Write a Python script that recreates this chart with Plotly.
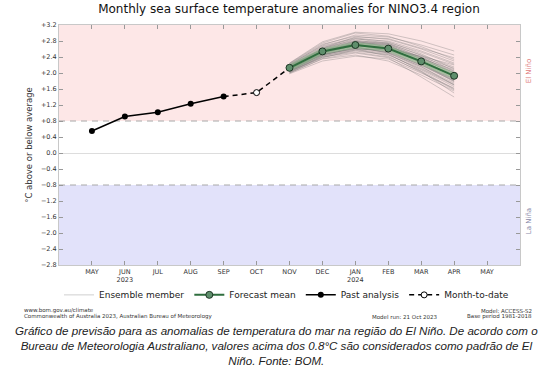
import plotly.graph_objects as go

# ---------------- data ----------------
month_labels = ["MAY", "JUN<br>2023", "JUL", "AUG", "SEP", "OCT", "NOV", "DEC",
                "JAN<br>2024", "FEB", "MAR", "APR", "MAY"]
month_idx = list(range(len(month_labels)))

past_months = [0, 1, 2, 3, 4]          # MAY..SEP 2023
past_values = [0.55, 0.91, 1.02, 1.23, 1.41]

mtd_month = [5]                        # OCT 2023
mtd_value = [1.51]

fc_months = [6, 7, 8, 9, 10, 11]       # NOV 2023 .. APR 2024
fc_mean = [2.13, 2.54, 2.70, 2.61, 2.29, 1.93]

ensemble = [
    [2.10, 2.50, 2.70, 2.62, 2.30, 1.95],
    [2.15, 2.60, 2.85, 2.80, 2.55, 2.25],
    [2.05, 2.40, 2.55, 2.45, 2.10, 1.70],
    [2.20, 2.70, 2.95, 2.90, 2.70, 2.45],
    [2.00, 2.35, 2.45, 2.30, 1.95, 1.55],
    [2.12, 2.55, 2.75, 2.70, 2.35, 2.00],
    [2.18, 2.62, 2.80, 2.65, 2.25, 1.80],
    [2.08, 2.45, 2.62, 2.55, 2.20, 1.85],
    [2.25, 2.78, 3.02, 2.98, 2.80, 2.55],
    [2.02, 2.42, 2.60, 2.48, 2.05, 1.60],
    [2.14, 2.52, 2.68, 2.58, 2.28, 1.98],
    [2.16, 2.58, 2.76, 2.66, 2.40, 2.12],
    [2.06, 2.46, 2.66, 2.52, 2.15, 1.75],
    [2.22, 2.68, 2.88, 2.78, 2.48, 2.10],
    [1.98, 2.30, 2.42, 2.35, 2.00, 1.62],
    [2.10, 2.56, 2.78, 2.74, 2.45, 2.15],
    [2.13, 2.48, 2.64, 2.50, 2.12, 1.72],
    [2.19, 2.64, 2.82, 2.72, 2.38, 1.96],
    [2.04, 2.38, 2.58, 2.60, 2.42, 2.20],
    [2.11, 2.53, 2.72, 2.60, 2.26, 1.88],
    [2.17, 2.57, 2.70, 2.55, 2.18, 1.80],
    [2.09, 2.50, 2.74, 2.68, 2.34, 1.92],
    [2.23, 2.72, 2.92, 2.84, 2.60, 2.30],
    [2.03, 2.44, 2.64, 2.57, 2.22, 1.78],
    [2.14, 2.58, 2.80, 2.76, 2.52, 2.22],
    [2.07, 2.47, 2.60, 2.42, 2.02, 1.58],
    [2.16, 2.54, 2.66, 2.50, 2.16, 1.70],
    [2.12, 2.52, 2.72, 2.66, 2.32, 2.02],
    [2.20, 2.66, 2.86, 2.74, 2.44, 2.05],
    [2.01, 2.40, 2.52, 2.40, 2.04, 1.50],
    [2.15, 2.62, 2.90, 2.86, 2.62, 2.38],
    [2.10, 2.49, 2.68, 2.64, 2.36, 2.08],
    [2.06, 2.43, 2.57, 2.46, 2.08, 1.66],
    [2.18, 2.60, 2.78, 2.70, 2.30, 1.90],
    [2.13, 2.55, 2.74, 2.62, 2.27, 1.86],
    [2.24, 2.75, 3.00, 2.92, 2.66, 2.34],
    [2.08, 2.52, 2.76, 2.72, 2.40, 2.00],
    [2.11, 2.46, 2.62, 2.52, 2.20, 1.82],
    [2.19, 2.59, 2.72, 2.58, 2.24, 1.84],
    [2.05, 2.48, 2.70, 2.64, 2.38, 2.04],
    [2.00, 2.36, 2.50, 2.38, 1.90, 1.40],
]

y_ticks = [3.2, 2.8, 2.4, 2.0, 1.6, 1.2, 0.8, 0.4, 0.0, -0.4, -0.8, -1.2, -1.6, -2.0, -2.4, -2.8]
y_ticktext = ["+3.2", "+2.8", "+2.4", "+2.0", "+1.6", "+1.2", "+0.8", "+0.4", "0.0",
              "\u22120.4", "\u22120.8", "\u22121.2", "\u22121.6", "\u22122.0", "\u22122.4", "\u22122.8"]

el_nino_threshold = 0.8
la_nina_threshold = -0.8
y_min, y_max = -2.8, 3.2

FONT = "DejaVu Sans"

fig = go.Figure()

# ensemble members
for i, member in enumerate(ensemble):
    fig.add_trace(go.Scatter(
        x=fc_months, y=member, mode="lines",
        line=dict(color="rgba(105,105,105,0.45)", width=0.7),
        name="Ensemble member", showlegend=(i == 0),
        legendrank=1, hoverinfo="skip"))

# halo around forecast mean
fig.add_trace(go.Scatter(
    x=fc_months, y=fc_mean, mode="lines",
    line=dict(color="rgba(140,200,140,0.45)", width=6),
    showlegend=False, hoverinfo="skip"))

# dashed connector SEP -> OCT -> NOV
fig.add_trace(go.Scatter(
    x=[past_months[-1]] + mtd_month + [fc_months[0]],
    y=[past_values[-1]] + mtd_value + [fc_mean[0]],
    mode="lines", line=dict(color="black", width=1.5, dash="5px,4px"),
    showlegend=False, hoverinfo="skip"))

# forecast mean
fig.add_trace(go.Scatter(
    x=fc_months, y=fc_mean, mode="lines+markers",
    line=dict(color="#2f6e3e", width=2),
    marker=dict(size=7, color="#5f8f6c", line=dict(color="#1d3524", width=1)),
    name="Forecast mean", legendrank=2))

# past analysis
fig.add_trace(go.Scatter(
    x=past_months, y=past_values, mode="lines+markers",
    line=dict(color="black", width=1.5),
    marker=dict(size=6, color="black"),
    name="Past analysis", legendrank=3))

# month-to-date
fig.add_trace(go.Scatter(
    x=mtd_month, y=mtd_value, mode="lines+markers",
    line=dict(color="black", width=1.5, dash="5px,4px"),
    marker=dict(size=6, color="white", line=dict(color="black", width=1)),
    name="Month-to-date", legendrank=4))

shapes = [
    dict(type="rect", xref="paper", yref="y", x0=0, x1=1, y0=el_nino_threshold, y1=y_max,
         fillcolor="#fde7e7", line=dict(width=0), layer="below"),
    dict(type="rect", xref="paper", yref="y", x0=0, x1=1, y0=y_min, y1=la_nina_threshold,
         fillcolor="#e2e2fa", line=dict(width=0), layer="below"),
    dict(type="line", xref="paper", yref="y", x0=0, x1=1, y0=el_nino_threshold, y1=el_nino_threshold,
         line=dict(color="#a8a8a8", width=1, dash="6px,5px"), layer="below"),
    dict(type="line", xref="paper", yref="y", x0=0, x1=1, y0=la_nina_threshold, y1=la_nina_threshold,
         line=dict(color="#a8a8a8", width=1, dash="6px,5px"), layer="below"),
]

annotations = [
    dict(text="El Niño", xref="paper", yref="y", x=1.02, y=2.05, textangle=-90,
         showarrow=False, font=dict(family=FONT, size=7, color="#e07a7a"),
         xanchor="center", yanchor="middle"),
    dict(text="La Niña", xref="paper", yref="y", x=1.02, y=-1.7, textangle=-90,
         showarrow=False, font=dict(family=FONT, size=7, color="#8888a8"),
         xanchor="center", yanchor="middle"),
    dict(text="www.bom.gov.au/climate", xref="paper", yref="paper", x=-0.08, y=-0.19,
         showarrow=False, xanchor="left", yanchor="middle",
         font=dict(family=FONT, size=5.5, color="#333")),
    dict(text="Commonwealth of Australia 2023, Australian Bureau of Meteorology", xref="paper", yref="paper",
         x=-0.08, y=-0.215, showarrow=False, xanchor="left", yanchor="middle",
         font=dict(family=FONT, size=5.5, color="#333")),
    dict(text="Model run: 21 Oct 2023", xref="paper", yref="paper", x=0.675, y=-0.215,
         showarrow=False, xanchor="left", yanchor="middle",
         font=dict(family=FONT, size=5.5, color="#333")),
    dict(text="Model: ACCESS-S2", xref="paper", yref="paper", x=1.03, y=-0.19,
         showarrow=False, xanchor="right", yanchor="middle",
         font=dict(family=FONT, size=5.5, color="#333")),
    dict(text="Base period 1981-2018", xref="paper", yref="paper", x=1.03, y=-0.215,
         showarrow=False, xanchor="right", yanchor="middle",
         font=dict(family=FONT, size=5.5, color="#333")),
    dict(text="Gráfico de previsão para as anomalias de temperatura do mar na região do El Niño. De acordo com o<br>"
              "Bureau de Meteorologia Australiano, valores acima dos 0.8°C são considerados como padrão de El<br>"
              "Niño. Fonte: BOM.",
         xref="paper", yref="paper", x=(276 - 59) / 461, y=-0.2375, showarrow=False,
         xanchor="center", yanchor="top", align="center",
         font=dict(family="Liberation Sans", size=11.6, color="#222", style="italic")),
]

fig.update_layout(
    width=554, height=378,
    margin=dict(l=59, r=34, t=25, b=113),
    paper_bgcolor="white", plot_bgcolor="white",
    title=dict(text="Monthly sea surface temperature anomalies for NINO3.4 region",
               x=289 / 554, xanchor="center", y=1 - 9 / 378, yanchor="middle",
               font=dict(family=FONT, size=12, color="#111")),
    font=dict(family=FONT, color="#333"),
    showlegend=True,
    legend=dict(orientation="h", x=0, xanchor="left", y=-0.064, yanchor="top",
                font=dict(family=FONT, size=9, color="#222"), bgcolor="rgba(0,0,0,0)",
                traceorder="normal"),
    shapes=shapes,
    annotations=annotations,
)

fig.update_xaxes(
    range=[-1, 13], tickmode="array", tickvals=month_idx, ticktext=month_labels,
    ticks="inside", ticklen=4, tickcolor="#999", tickwidth=1,
    showline=True, linecolor="#c8c8c8", linewidth=1, mirror="ticks",
    showgrid=False, zeroline=False,
    tickfont=dict(family=FONT, size=6.5, color="#333"))

fig.update_yaxes(
    range=[y_min, y_max], tickmode="array", tickvals=y_ticks, ticktext=y_ticktext,
    ticks="inside", ticklen=4, tickcolor="#999", tickwidth=1,
    showline=True, linecolor="#c8c8c8", linewidth=1, mirror="ticks",
    showgrid=False, zeroline=True, zerolinecolor="#dddddd", zerolinewidth=1,
    tickfont=dict(family=FONT, size=6.5, color="#333"),
    title=dict(text="°C above or below average", font=dict(family=FONT, size=8.5, color="#333"),
               standoff=6))

fig.write_html("out.html", config={"displayModeBar": False},
               post_script="document.body.style.margin='0';document.body.style.overflow='hidden';")
